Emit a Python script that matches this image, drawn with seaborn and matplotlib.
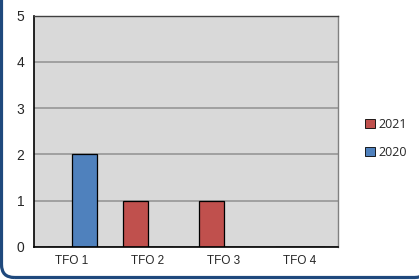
import pandas as pd
import numpy as np
import matplotlib
matplotlib.use("Agg")
import matplotlib.pyplot as plt
import seaborn as sns
from matplotlib.patches import FancyBboxPatch, Patch

categories = ["TFO 1", "TFO 2", "TFO 3", "TFO 4"]
years = ["2021", "2020"]
vals_2021 = [0, 1, 1, 0]
vals_2020 = [2, 0, 0, 0]
y_ticks = [0, 1, 2, 3, 4, 5]

df = pd.DataFrame({
    "cat": categories * 2,
    "year": ["2021"] * 4 + ["2020"] * 4,
    "value": vals_2021 + vals_2020,
})

sns.set_style("white")
plt.rcParams["font.family"] = ["Liberation Sans", "DejaVu Sans"]

fig = plt.figure(figsize=(4.19, 2.80), dpi=100)
ax = fig.add_axes([0.0811, 0.1179, 0.7256, 0.8267])

palette = {"2021": "#C0504D", "2020": "#4F81BD"}
sns.barplot(data=df, x="cat", y="value", hue="year", hue_order=years,
            palette=palette, width=0.66, edgecolor="black", linewidth=0.9,
            saturation=1, ax=ax, legend=False)

ax.set_facecolor("#D9D9D9")
ax.set_ylim(0, 5)
ax.set_xlim(-0.5, 3.5)
ax.set_yticks(y_ticks)
ax.set_yticklabels([str(v) for v in y_ticks], fontsize=10)
ax.set_xlabel("")
ax.set_ylabel("")
ax.yaxis.grid(True, color="#A0A0A0", linewidth=1.4)
ax.set_axisbelow(True)

ax.set_xticks(range(4))
ax.set_xticklabels(categories, fontsize=8.5)
ax.set_xticks(np.arange(-0.5, 4.0, 1.0), minor=True)
ax.tick_params(axis="x", which="major", length=0, pad=6)
ax.tick_params(axis="x", which="minor", length=4, width=1, color="black", direction="out")
ax.tick_params(axis="y", length=4, width=1, color="black", direction="out", pad=3)

for s in ["left", "bottom"]:
    ax.spines[s].set_color("black")
    ax.spines[s].set_linewidth(1.2)
ax.spines["top"].set_color("#404040")
ax.spines["right"].set_color("#808080")
ax.spines["top"].set_linewidth(1.0)
ax.spines["right"].set_linewidth(1.0)

handles = [Patch(facecolor=palette[y], edgecolor="black", linewidth=0.6, label=y) for y in years]
fig.legend(handles=handles, loc="center left", bbox_to_anchor=(0.845, 0.505),
           frameon=False, handlelength=0.75, handleheight=0.75,
           handletextpad=0.3, labelspacing=1.2,
           prop={"family": ["Open Sans", "DejaVu Sans"], "size": 9})

# dark blue rounded frame, cut off at the top and right like the original
border = FancyBboxPatch((0.015, 0.025), 4.26, 3.0, boxstyle="round,pad=0,rounding_size=0.13",
                        transform=fig.dpi_scale_trans, facecolor="none", edgecolor="#1F497D",
                        linewidth=2.3)
fig.patches.append(border)

fig.savefig("out.png", dpi=100)
